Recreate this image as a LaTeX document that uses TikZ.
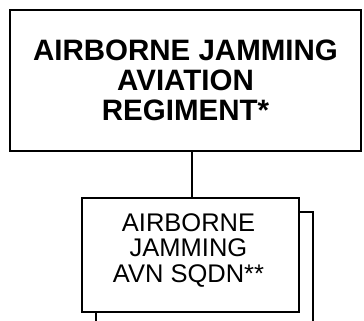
\documentclass[tikz,border=0pt]{standalone}
\usepackage{fontspec}
\setmainfont{Liberation Sans}
\usetikzlibrary{positioning}

\begin{document}
\begin{tikzpicture}[x=1pt, y=-1pt,
    unitbox/.style={draw, line width=1.7pt, fill=white, inner sep=0pt},
    link/.style={line width=1.7pt}]

    % Page frame
    \useasboundingbox (0,0) rectangle (364,321);

    % Regiment
    \node[unitbox, minimum width=351pt, minimum height=141pt,
          align=center, font=\fontsize{29.5}{30}\selectfont\bfseries]
        (regt) at (185.5,80.5)
        {AIRBORNE JAMMING\\AVIATION\\REGIMENT*};

    % Squadrons: back copy first, then the front one
    \node[unitbox, minimum width=217pt, minimum height=114pt]
        (sqdnback) at (204.5,269) {};
    \node[unitbox, minimum width=217pt, minimum height=114pt]
        (sqdn) at (190.5,255) {};
    \node[align=center, font=\fontsize{25.5}{25.5}\selectfont]
        (sqdntext) at (188.5,250.5) {AIRBORNE\\JAMMING\\AVN SQDN**};

    % Connector
    \draw[link] ([xshift=1.5pt]sqdn.north) -- ([xshift=1.5pt]sqdn.north |- regt.south);

\end{tikzpicture}
\end{document}
